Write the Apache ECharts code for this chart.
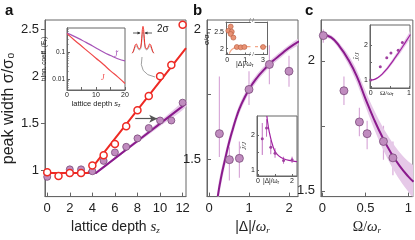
<!DOCTYPE html>
<html><head><meta charset="utf-8">
<script src="https://cdn.jsdelivr.net/npm/echarts@6/dist/echarts.min.js"></script>
<style>html,body{margin:0;padding:0;background:#fff}#c{width:415px;height:240px}</style>
</head><body><div id="c"></div>
<script>
// ---------- Panel a (main) ----------
const depthRed = [0,1,2,3,4,5,6,7,8,9,10,11,12];
const widthRed = [0.98,0.94,0.97,0.97,1.05,1.16,1.28,1.47,1.64,1.79,2.00,2.12,2.55];
const depthPurple = [0,0,2,2,3,3,4,5,6,7,8,9,10,11,12];
const widthPurple = [0.97,0.93,1.01,0.97,1.01,0.97,0.99,1.10,1.19,1.25,1.34,1.45,1.53,1.53,1.72];
const redFitX = [-0.2,3.6,12.3];
const redFitY = [0.97,0.97,2.30];
const purpleFitX = [3.0,4.3,6,8,10,12.3];
const purpleFitY = [0.97,0.97,1.127,1.312,1.497,1.71];
const purpleBandHalf = [0.0,0.0,0.012,0.02,0.027,0.035];
const arrowX = [7.8,9.75];
const arrowY = 1.55;
const ticksA_x = [0,2,4,6,8,10,12];
const ticksA_y = [1,1.5,2,2.5];
// ---------- Panel a inset (tunnelling coefficients) ----------
const insetDepth = [0,2.5,5,7.5,10,12.5,15,17.5,20];
const tunnelJ = [0.48,0.28,0.166,0.099,0.059,0.035,0.020,0.012,0.0068];
const tunnelJt = [0.50,0.38,0.28,0.20,0.141,0.100,0.074,0.056,0.047];
// ---------- peak sketch (profile shape) ----------
const peakPos = [-1,-0.9,-0.8,-0.7,-0.6,-0.5,-0.4,-0.3,-0.2,-0.12,-0.06,0,0.06,0.12,0.2,0.3,0.4,0.5,0.6,0.7,0.8,0.9,1];
const peakVal = [0.03,0.08,0.2,0.33,0.36,0.28,0.2,0.19,0.26,0.55,0.88,1.0,0.88,0.55,0.26,0.19,0.2,0.28,0.36,0.33,0.2,0.08,0.03];
// ---------- Panel b (main) ----------
const detuning = [0.26,0.51,0.76,1.0,1.51,2.0];
const widthB = [1.60,1.50,1.505,1.77,1.866,1.84];
const widthBLo = [1.51,1.42,1.43,1.71,1.79,1.78];
const widthBHi = [1.82,1.55,1.57,1.84,1.94,1.90];
const fitBX = [0.22,0.3,0.4,0.5,0.6,0.7,0.8,1.0,1.2,1.4,1.6,1.8,2.0,2.25];
const fitBY = [1.36,1.43,1.50,1.565,1.62,1.67,1.71,1.77,1.815,1.85,1.88,1.905,1.93,1.955];
const fitBHalf = [0.03,0.028,0.025,0.022,0.02,0.018,0.017,0.015,0.014,0.013,0.012,0.012,0.011,0.011];
// inset b1 (sigma/sigma0 vs |Delta|)
const in1X = [0.07,0.2,0.26,0.2,0.35,0.54,0.76,0.96,3.0];
const in1Y = [2.55,2.68,2.52,2.45,2.34,2.05,2.04,2.05,2.05];
const in1LineX = [0.12,0.2,0.3,0.45,0.6,0.8,1.0,1.3];
const in1LineY = [1.84,1.93,1.99,2.03,2.05,2.06,2.06,2.06];
const in1LineRX = [2.55,3.2];
const in1LineRY = [2.06,2.06];
// inset b2 (J~/J vs |Delta|)
const in2X = [0.25,0.5,0.75,1.0,1.5,2.0];
const in2Y = [1.89,2.2,1.65,1.48,1.27,1.29];
const in2Lo = [1.43,1.95,1.45,1.35,1.18,1.20];
const in2Hi = [2.34,2.45,1.85,1.62,1.38,1.38];
const in2CurveX = [0.52,0.6,0.7,0.85,1.0,1.2,1.5,2.0,2.29];
const in2CurveY = [2.54,2.25,2.0,1.72,1.53,1.41,1.32,1.26,1.24];
// ---------- Panel c (main) ----------
const rabi = [0.01,0.25,0.43,0.52,0.71,0.82];
const widthC = [2.097,1.885,1.765,1.72,1.69,1.627];
const widthCLo = [2.07,1.83,1.71,1.66,1.62,1.56];
const widthCHi = [2.12,1.94,1.82,1.77,1.75,1.69];
const fitCX = [0,0.1,0.2,0.3,0.4,0.5,0.6,0.7,0.8,0.9,1.0,1.06];
const fitCY = [2.10,2.09,2.055,2.005,1.94,1.855,1.775,1.705,1.645,1.595,1.555,1.535];
const fitCHalf = [0.005,0.008,0.012,0.018,0.024,0.03,0.036,0.042,0.048,0.053,0.058,0.06];
// inset c (J~/J vs Omega)
const inCX = [0.0,0.25,0.42,0.53,0.72,0.83];
const inCY = [1.0,1.38,1.64,1.78,1.86,2.08];
const inCCurveX = [0,0.1,0.2,0.3,0.4,0.5,0.6,0.7,0.8,0.9,1.0,1.04];
const inCCurveY = [1.0,1.02,1.08,1.17,1.29,1.43,1.58,1.74,1.90,2.07,2.24,2.31];
const inCHalf = [0.01,0.02,0.03,0.04,0.05,0.06,0.07,0.08,0.09,0.1,0.11,0.12];

const FONT = 'Liberation Sans, Arial, sans-serif';
const AX = '#666', TX = '#222';
const RED = '#ee2a24', PUR = '#8a1a8c', PFILL = '#c08cbf', PEDGE = '#7a4a7a', ERR = '#d9aad9', BAND = '#e6c9e8';

const chart = echarts.init(document.getElementById('c'), null, {renderer:'canvas'});

function zip(a,b){return a.map((v,i)=>[v,b[i]]);}
function grid(l,t,w,h,show){return {left:l,top:t,width:w,height:h,show:!!show,borderColor:AX,borderWidth:1,containLabel:false};}
function axis(gi,pos,min,max,o){
  o=o||{};
  return Object.assign({gridIndex:gi,type:'value',position:pos,min:min,max:max,
    axisLine:{show:true,onZero:false,lineStyle:{color:AX,width:1}},
    axisTick:{show:!!o.ticks,inside:o.inside!==false,length:o.tl||4,customValues:o.ticks,lineStyle:{color:AX}},
    axisLabel:{show:!!o.labels,customValues:o.labels,fontFamily:FONT,fontSize:o.fs||12,color:TX,margin:o.margin||4,formatter:o.fmt},
    splitLine:{show:false}},o.extra||{});
}
function errSeries(xi,yi,xs,lo,hi,color,w){
  return {type:'custom',xAxisIndex:xi,yAxisIndex:yi,clip:true,silent:true,z:1,
    data:xs.map((x,i)=>[x,lo[i],hi[i]]),
    renderItem:(p,api)=>{const a=api.coord([api.value(0),api.value(1)]),b=api.coord([api.value(0),api.value(2)]);
      return {type:'line',shape:{x1:a[0],y1:a[1],x2:b[0],y2:b[1]},style:{stroke:color,lineWidth:w}};}};
}
function bandSeries(xi,yi,xs,ys,half,color){
  return {type:'custom',xAxisIndex:xi,yAxisIndex:yi,clip:true,silent:true,z:1,data:[[xs[0],ys[0]]],
    renderItem:(p,api)=>{const pts=[];
      xs.forEach((x,i)=>pts.push(api.coord([x,ys[i]+half[i]])));
      for(let i=xs.length-1;i>=0;i--)pts.push(api.coord([xs[i],ys[i]-half[i]]));
      return {type:'polygon',shape:{points:pts,smooth:0.3},style:{fill:color}};}};
}
function lineS(xi,yi,data,color,w,o){return Object.assign({type:'line',xAxisIndex:xi,yAxisIndex:yi,data:data,showSymbol:false,symbol:'none',silent:true,lineStyle:{color:color,width:w},z:3},o||{});}
function scat(xi,yi,data,size,fill,edge,bw,o){return Object.assign({type:'scatter',xAxisIndex:xi,yAxisIndex:yi,data:data,symbolSize:size,silent:true,itemStyle:{color:fill,borderColor:edge,borderWidth:bw,opacity:1},z:4},o||{});}

const log = v=>Math.log10(v);
const minorLog=[];[0.001,0.01,0.1].forEach(d=>{for(let k=2;k<=9;k++){const v=log(k*d);if(v>-2.41&&v<-0.11)minorLog.push(v);}});

const grids=[
  grid(35,20,151,182,true),      //0 a main
  grid(67,28,58,62,true),        //1 a inset
  grid(132,25,22,29,false),      //2 peak sketch
  grid(207,20,91,182,true),      //3 b main
  grid(226,22,24.5,32.5,false),  //4 b inset1 left
  grid(255,22,12,32.5,false),    //5 b inset1 right
  grid(257,116,40,60,true),      //6 b inset2
  grid(321,20,92,182,true),      //7 c main
  grid(370,25,40,63,true)        //8 c inset
];
const sfs=7;
const mainName=(txt,ff)=>({name:txt,nameLocation:'middle',nameGap:19,nameTextStyle:{fontFamily:ff||FONT,fontSize:14,color:TX,
  rich:{i:{fontFamily:'Liberation Serif',fontStyle:'italic',fontSize:15},s:{fontSize:9,padding:[7,0,0,0],fontFamily:'Liberation Serif',fontStyle:'italic'}}}});
const xAxes=[
  axis(0,'bottom',-0.2,12.3,{ticks:ticksA_x,labels:ticksA_x,fs:13,margin:5,extra:mainName('lattice depth {i|s}{s|z}')}),
  axis(1,'bottom',0,20,{ticks:[0,5,10,15,20],labels:[0,10,20],fs:sfs,margin:2,tl:3,
    extra:{name:'lattice depth {i|s}{s|z}',nameLocation:'middle',nameGap:9,nameTextStyle:{fontFamily:FONT,fontSize:7.5,color:TX,rich:{i:{fontStyle:'italic',fontSize:7.5},s:{fontSize:5,padding:[3,0,0,0]}}}}}),
  axis(2,'bottom',-1,1,{extra:{show:false}}),
  axis(3,'bottom',-0.05,2.225,{ticks:[0,1,2],labels:[0,1,2],fs:13,margin:5,extra:mainName('|Δ|/{i|ω}{s|r}')}),
  axis(4,'bottom',-0.06,1.3,{ticks:[0,1],labels:[0,1],fs:sfs,margin:2,tl:2}),
  axis(5,'bottom',2.55,3.22,{ticks:[3],labels:[3],fs:sfs,margin:2,tl:2}),
  axis(6,'bottom',-0.06,2.29,{ticks:[0,1,2],labels:[0,2],fs:sfs,margin:2,tl:2}),
  axis(7,'bottom',-0.017,1.052,{ticks:[0,0.5,1],labels:[0,0.5,1],fs:13,margin:5,extra:mainName('Ω/{i|ω}{s|r}','Liberation Serif')}),
  axis(8,'bottom',-0.02,1.03,{ticks:[0,0.5,1],labels:[0,1],fs:sfs,margin:2,tl:2}),
  axis(4,'top',-0.06,1.3,{}),
  axis(5,'top',2.55,3.22,{})
];
const yAxes=[
  axis(0,'left',0.72,2.6,{ticks:ticksA_y,labels:ticksA_y,fs:13,margin:6,inside:false,
    extra:{name:'peak width σ/σ₀',nameLocation:'middle',nameGap:20,nameRotate:90,nameTextStyle:{fontFamily:FONT,fontSize:16,color:TX}}}),
  axis(1,'left',-2.407,-0.111,{ticks:[-2,-1],labels:[-2,-1],fs:6.5,margin:2,tl:3,fmt:v=>v===-1?'0.1':'0.01',
    extra:{name:'tunn. coeff. (E{s|r})',nameLocation:'middle',nameGap:14,nameRotate:90,nameTextStyle:{fontFamily:FONT,fontSize:6.5,color:TX,rich:{s:{fontSize:5,padding:[3,0,0,0]}}}}}),
  axis(2,'left',0,1.05,{extra:{show:false}}),
  axis(3,'left',1.358,2.037,{ticks:[1.5,1.75,2],labels:[1.5,2],fs:13,margin:6}),
  axis(4,'left',1.82,2.82,{ticks:[2,2.5],labels:[2,2.5],fs:sfs,margin:2,tl:2,
    extra:{name:'σ/σ₀',nameLocation:'middle',nameGap:12,nameRotate:90,nameTextStyle:{fontFamily:FONT,fontSize:7,color:TX}}}),
  axis(5,'right',1.82,2.82,{}),
  axis(6,'left',0.83,2.54,{ticks:[1,1.5,2],labels:[1,2],fs:sfs,margin:2,tl:2,
    extra:{name:'J̃/J',nameLocation:'middle',nameGap:7,nameRotate:90,nameTextStyle:{fontFamily:'Liberation Serif',fontStyle:'italic',fontSize:7,color:TX}}}),
  axis(7,'left',1.478,2.157,{ticks:[1.5,1.75,2],labels:[1.5,2],fs:13,margin:6}),
  axis(8,'left',0.77,2.585,{ticks:[1,1.5,2],labels:[1,2],fs:sfs,margin:2,tl:2,
    extra:{name:'J̃/J',nameLocation:'middle',nameGap:7,nameRotate:90,nameTextStyle:{fontFamily:'Liberation Serif',fontStyle:'italic',fontSize:7,color:TX}}}),
  axis(1,'left',-2.407,-0.111,{ticks:minorLog,tl:1.5})
];

const series=[
  // panel a
  bandSeries(0,0,purpleFitX,purpleFitY,purpleBandHalf,BAND),
  lineS(0,0,zip(purpleFitX,purpleFitY),PUR,2),
  lineS(0,0,zip(redFitX,redFitY),RED,2),
  scat(0,0,zip(depthPurple,widthPurple),7,PFILL,PEDGE,0.8),
  scat(0,0,zip(depthRed,widthRed),7,'#fff',RED,1.5),
  lineS(0,0,[],'#444',1,{markLine:{silent:true,symbol:['none','arrow'],symbolSize:[6,8],lineStyle:{color:'#555',width:1.2,type:'solid'},label:{show:false},
    data:[[{coord:[arrowX[0],arrowY]},{coord:[arrowX[1],arrowY]}]]}}),
  // inset a
  lineS(1,1,zip(insetDepth,tunnelJt.map(log)),'#a654b8',1.2,{smooth:true}),
  lineS(1,1,zip(insetDepth,tunnelJ.map(log)),'#f04848',1.2,{smooth:true}),
  // peak sketch
  lineS(2,2,zip(peakPos,peakVal.map(v=>v*0.8)),'#999',0.8,{smooth:0.3,z:2}),
  lineS(2,2,zip(peakPos,peakVal),RED,1,{smooth:0.3}),
  // panel b
  errSeries(3,3,detuning,widthBLo,widthBHi,ERR,1.2),
  bandSeries(3,3,fitBX,fitBY,fitBHalf,BAND),
  lineS(3,3,zip(fitBX,fitBY),PUR,2,{smooth:true}),
  scat(3,3,zip(detuning,widthB),8,PFILL,PEDGE,0.8),
  // inset b1
  lineS(4,4,zip(in1LineX,in1LineY),'#f4a98a',1.2,{smooth:true}),
  lineS(5,5,zip(in1LineRX,in1LineRY),'#f4a98a',1.2,{lineStyle:{color:'#f4a98a',width:1.2,type:[3,2]}}),
  scat(4,4,zip(in1X.slice(0,8),in1Y.slice(0,8)),5,'#e99274','#b45a40',0.6),
  scat(5,5,zip(in1X.slice(8),in1Y.slice(8)),5,'#e99274','#b45a40',0.6),
  // inset b2
  errSeries(6,6,in2X,in2Lo,in2Hi,'#c070c0',1),
  lineS(6,6,zip(in2CurveX,in2CurveY),'#a020a0',1.2,{smooth:true}),
  scat(6,6,zip(in2X,in2Y),3,'#a040a0','#a040a0',0),
  // panel c
  errSeries(7,7,rabi,widthCLo,widthCHi,ERR,1.2),
  bandSeries(7,7,fitCX,fitCY,fitCHalf,BAND),
  lineS(7,7,zip(fitCX,fitCY),PUR,2,{smooth:true}),
  scat(7,7,zip(rabi,widthC),8,PFILL,PEDGE,0.8),
  // inset c
  bandSeries(8,8,inCCurveX,inCCurveY,inCHalf,BAND),
  lineS(8,8,zip(inCCurveX,inCCurveY),'#a020a0',1.2,{smooth:true}),
  scat(8,8,zip(inCX,inCY),3,'#a040a0','#a040a0',0)
];

const sub = {s:{fontSize:5,padding:[3,0,0,0]}};
const graphic=[
  {type:'text',left:5,top:3,style:{text:'a',font:'bold 15px '+FONT,fill:'#111'}},
  {type:'text',left:193,top:3,style:{text:'b',font:'bold 15px '+FONT,fill:'#111'}},
  {type:'text',left:305,top:3,style:{text:'c',font:'bold 15px '+FONT,fill:'#111'}},
  {type:'text',left:114,top:51,style:{text:'J̃',font:'italic 8px Liberation Serif',fill:'#a654b8'}},
  {type:'text',left:101,top:74,style:{text:'J',font:'italic 8px Liberation Serif',fill:'#f04848'}},
  {type:'text',left:157,top:24,style:{text:'2σ',font:'10px '+FONT,fill:'#222'}},
  {type:'polyline',shape:{points:[[133,33],[140,33]]},style:{stroke:'#333',lineWidth:0.8}},
  {type:'polygon',shape:{points:[[140.5,33],[137.5,31.5],[137.5,34.5]]},style:{fill:'#333'}},
  {type:'polyline',shape:{points:[[145,33],[152,33]]},style:{stroke:'#333',lineWidth:0.8}},
  {type:'polygon',shape:{points:[[144.5,33],[147.5,31.5],[147.5,34.5]]},style:{fill:'#333'}},
  {type:'bezierCurve',shape:{x1:142,y1:57,cpx1:138,cpy1:74,x2:155,y2:77},style:{stroke:'#888',lineWidth:0.8,fill:null}},
  {type:'text',left:249,top:17,style:{text:'/ /',font:'6px '+FONT,fill:'#666'}},
  {type:'text',left:249,top:51,style:{text:'/ /',font:'6px '+FONT,fill:'#666'}},
  {type:'text',left:236,top:61,style:{text:'|Δ|/ω{s|r}',font:'7px '+FONT,fill:TX,rich:sub}},
  {type:'text',left:263,top:178,style:{text:'|Δ|/ω{s|r}',font:'6.5px '+FONT,fill:TX,rich:sub}},
  {type:'text',left:380,top:90,style:{text:'Ω/ω{s|r}',font:'7px Liberation Serif',fill:TX,rich:sub}}
];

chart.setOption({animation:false,backgroundColor:'#fff',grid:grids,xAxis:xAxes,yAxis:yAxes,series:series,graphic:graphic});
</script></body></html>
